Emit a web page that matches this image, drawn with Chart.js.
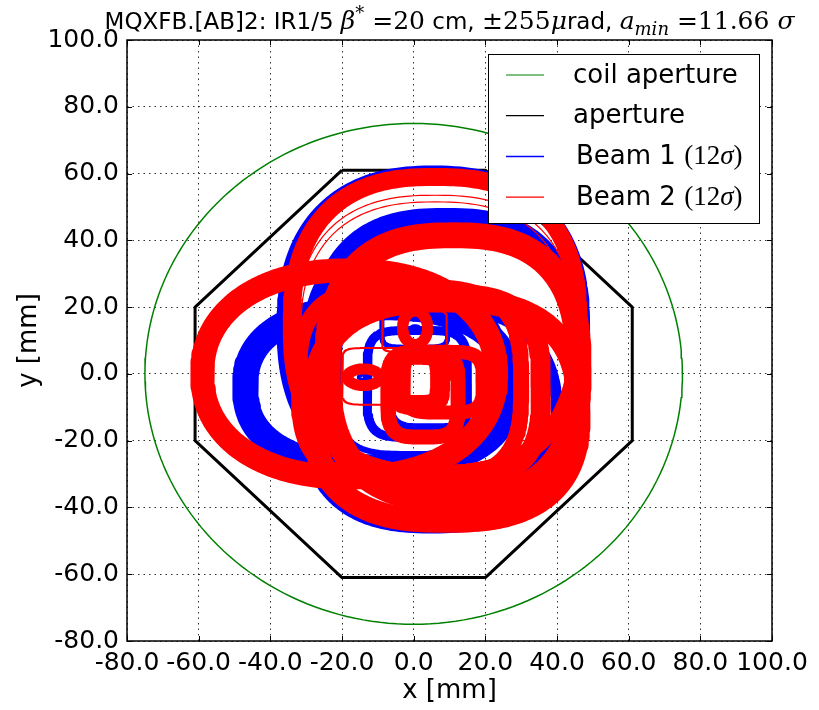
<!DOCTYPE html>
<html>
<head>
<meta charset="utf-8">
<script src="https://cdn.jsdelivr.net/npm/chart.js@4/dist/chart.umd.min.js"></script>
<style>
  html, body { margin: 0; padding: 0; background: #fff; }
</style>
</head>
<body>
<canvas id="chart" width="819" height="710"></canvas>
<script>
// axis ticks (mm)
const xTicks = [-80, -60, -40, -20, 0, 20, 40, 60, 80, 100];
const yTicks = [-80, -60, -40, -20, 0, 20, 40, 60, 80, 100];

// coil aperture (circle radius, mm)
const coilRadius = 75;

// beam screen aperture octagon vertices (mm)
const apertureX = [-20, 20, 61, 61, 20, -20, -61, -61, -20];
const apertureY = [61, 61, 20, -20, -61, -61, -20, 20, 61];

// Beam 1 envelopes: centre, half width, half height (mm), squareness
const beam1CX = [5.5, 9, -10, 5, 8.5, 2, 1, 0.3, 4.2, 0.4, -14];
const beam1CY = [14, 5.5, -4, -13, 6.5, -2, -3, 13.5, -4.5, 13.8, -1];
const beam1HW = [41.5, 36, 37, 35, 38.5, 23, 14, 9.2, 10.8, 1.2, 1.5];
const beam1HH = [46, 41.5, 24, 33, 36.5, 22, 16, 5.5, 11.5, 0.6, 0.6];
const beam1N = [2.4, 2.6, 2.4, 2.5, 2.6, 4, 4.5, 5, 4.5, 2, 2];

// Beam 2 envelopes
const beam2CX = [6, 11, -18, 9, -1, 6, 2.6, 8.2, 1.2, 0.4, -14, 0.25, -6, 6, 6];
const beam2CY = [14.5, 2, 0, -11, -3, -4, -6.2, -2.5, -1.8, 13.8, -1, 12.8, -0.75, 13, 12];
const beam2HW = [40, 35, 41, 37, 31, 29.5, 9.8, 11.1, 6.2, 3.5, 4.5, 9.05, 14, 38.5, 37.5];
const beam2HH = [44.5, 39.5, 31, 33, 29, 28, 12.7, 9.1, 7.5, 5, 2.5, 6.2, 8.5, 40.5, 39.5];
const beam2N = [2.5, 2.6, 2.2, 2.6, 3.2, 3.2, 4, 4, 4, 2, 2, 8, 8, 2.5, 2.5];

// band thickness in px (style)
const beam1Width = [16, 18, 26, 12, 8, 6, 9, 5, 8, 3, 3];
const beam2Width = [18, 26, 24, 24, 16, 20, 15, 14, 20, 11, 11, 2, 2, 1.2, 1.2];

const BLUE = '#0000ff', RED = '#ff0000', GREEN = '#008000';

function outline(cx, cy, hw, hh, n) {
  const pts = [];
  const steps = 200;
  for (let i = 0; i <= steps; i++) {
    const t = i / steps * 2 * Math.PI;
    const c = Math.cos(t), s = Math.sin(t);
    pts.push({
      x: cx + hw * Math.sign(c) * Math.pow(Math.abs(c), 2 / n),
      y: cy + hh * Math.sign(s) * Math.pow(Math.abs(s), 2 / n)
    });
  }
  return pts;
}

const datasets = [];

function addSet(label, color, width, points, order) {
  datasets.push({
    label: label,
    data: points,
    showLine: true,
    borderColor: color,
    backgroundColor: color,
    borderWidth: width,
    borderJoinStyle: 'round',
    pointRadius: 0,
    pointHoverRadius: 0,
    fill: false,
    tension: 0,
    order: order
  });
}

addSet('coil aperture', GREEN, 1.5, outline(0, 0, coilRadius, coilRadius, 2), 3);
addSet('aperture', '#000000', 3, apertureX.map((x, i) => ({x: x, y: apertureY[i]})), 2);
beam1CX.forEach((cx, i) => {
  addSet(i === 0 ? 'Beam 1' : '', BLUE, beam1Width[i],
    outline(cx, beam1CY[i], beam1HW[i], beam1HH[i], beam1N[i]), 1);
});
beam2CX.forEach((cx, i) => {
  addSet(i === 0 ? 'Beam 2' : '', RED, beam2Width[i],
    outline(cx, beam2CY[i], beam2HW[i], beam2HH[i], beam2N[i]), 0);
});

function drawPieces(ctx, pieces, x, y) {
  pieces.forEach(p => {
    ctx.font = p[1];
    ctx.fillText(p[0], x, y + (p[2] || 0));
    x += ctx.measureText(p[0]).width;
  });
}

function piecesWidth(ctx, pieces) {
  let w = 0;
  pieces.forEach(p => { ctx.font = p[1]; w += ctx.measureText(p[0]).width; });
  return w;
}

const SANS = '"DejaVu Sans", sans-serif';
const SERIF = '"DejaVu Serif", serif';
const LSERIF = '"Liberation Serif", serif';

const titlePieces = [
  ['MQXFB.[AB]2: IR1/5 ', '23px ' + SANS],
  ['\u03b2', 'italic 25px ' + SERIF],
  ['*', '18px ' + SERIF, -10],
  [' =20', '25px ' + SERIF],
  [' cm, ', '23px ' + SANS],
  ['\u00b1255', '25px ' + SERIF],
  ['\u03bc', 'italic 25px ' + SERIF],
  ['rad, ', '23px ' + SANS],
  ['a', 'italic 25px ' + SERIF],
  ['min', 'italic 18px ' + SERIF, 6],
  [' =11.66 ', '25px ' + SERIF],
  ['\u03c3', 'italic 25px ' + SERIF]
];

const legendRows = [
  {pieces: [['coil aperture', '26px ' + SANS]], color: GREEN, width: 1.2, tx: 573},
  {pieces: [['aperture', '26px ' + SANS]], color: '#000000', width: 1.2, tx: 573},
  {pieces: [['Beam 1 ', '26px ' + SANS], ['(12', '27px ' + LSERIF], ['\u03c3', 'italic 27px ' + LSERIF], [')', '27px ' + LSERIF]], color: BLUE, width: 1.5, tx: 576},
  {pieces: [['Beam 2 ', '26px ' + SANS], ['(12', '27px ' + LSERIF], ['\u03c3', 'italic 27px ' + LSERIF], [')', '27px ' + LSERIF]], color: RED, width: 1.2, tx: 576}
];

const decorations = {
  id: 'decorations',
  afterDraw(chart) {
    const ctx = chart.ctx, a = chart.chartArea;
    const sx = chart.scales.x, sy = chart.scales.y;
    ctx.save();
    ctx.strokeStyle = '#000';
    ctx.lineWidth = 1;
    ctx.setLineDash([]);
    ctx.beginPath();
    sx.ticks.forEach(t => {
      const p = Math.round(sx.getPixelForValue(t.value)) + 0.5;
      ctx.moveTo(p, a.bottom); ctx.lineTo(p, a.bottom - 5);
      ctx.moveTo(p, a.top); ctx.lineTo(p, a.top + 5);
    });
    sy.ticks.forEach(t => {
      const p = Math.round(sy.getPixelForValue(t.value)) + 0.5;
      ctx.moveTo(a.left, p); ctx.lineTo(a.left + 5, p);
      ctx.moveTo(a.right, p); ctx.lineTo(a.right - 5, p);
    });
    ctx.stroke();
    ctx.lineWidth = 1.5;
    ctx.strokeRect(a.left, a.top, a.right - a.left, a.bottom - a.top);

    // legend box
    const lx = 488, ly = 54, lw = 271, lh = 169;
    ctx.fillStyle = '#fff';
    ctx.fillRect(lx, ly, lw, lh);
    ctx.lineWidth = 1;
    ctx.strokeRect(lx + 0.5, ly + 0.5, lw, lh);
    ctx.textBaseline = 'middle';
    ctx.textAlign = 'left';
    legendRows.forEach((row, i) => {
      const ry = 75 + i * 40.7;
      ctx.strokeStyle = row.color;
      ctx.lineWidth = row.width;
      ctx.beginPath();
      ctx.moveTo(506, ry); ctx.lineTo(544, ry);
      ctx.stroke();
      ctx.fillStyle = '#000';
      drawPieces(ctx, row.pieces, row.tx, ry + 1);
    });

    // title
    ctx.textBaseline = 'alphabetic';
    ctx.fillStyle = '#000';
    const w = piecesWidth(ctx, titlePieces);
    drawPieces(ctx, titlePieces, (a.left + a.right) / 2 - w / 2, 29);
    ctx.restore();
  }
};

const tickFont = {family: 'DejaVu Sans', size: 25};
const labelFont = {family: 'DejaVu Sans', size: 26};

new Chart(document.getElementById('chart'), {
  type: 'scatter',
  data: {datasets: datasets},
  options: {
    responsive: false,
    animation: false,
    events: [],
    layout: {padding: {top: 40, right: 47, left: 0, bottom: 0}},
    plugins: {
      legend: {display: false},
      tooltip: {enabled: false},
      title: {display: false}
    },
    scales: {
      x: {
        type: 'linear',
        min: xTicks[0],
        max: xTicks[xTicks.length - 1],
        afterBuildTicks: s => { s.ticks = xTicks.map(v => ({value: v})); },
        ticks: {callback: v => v.toFixed(1), color: '#000', font: tickFont, padding: 7, maxRotation: 0, autoSkip: false},
        grid: {color: 'rgba(0,0,0,0.8)', lineWidth: 1, drawTicks: false},
        border: {display: false, dash: [1.5, 4]},
        title: {display: true, text: 'x [mm]', color: '#000', font: labelFont, padding: {top: 0, bottom: 3}},
        afterFit: s => { s.height = 69; }
      },
      y: {
        type: 'linear',
        min: yTicks[0],
        max: yTicks[yTicks.length - 1],
        afterBuildTicks: s => { s.ticks = yTicks.map(v => ({value: v})); },
        ticks: {callback: v => v.toFixed(1), color: '#000', font: tickFont, padding: 8, autoSkip: false},
        grid: {color: 'rgba(0,0,0,0.8)', lineWidth: 1, drawTicks: false},
        border: {display: false, dash: [1.5, 4]},
        title: {display: true, text: 'y [mm]', color: '#000', font: labelFont, padding: {top: 14, bottom: 0}},
        afterFit: s => { s.width = 127; }
      }
    }
  },
  plugins: [decorations]
});
</script>
</body>
</html>
